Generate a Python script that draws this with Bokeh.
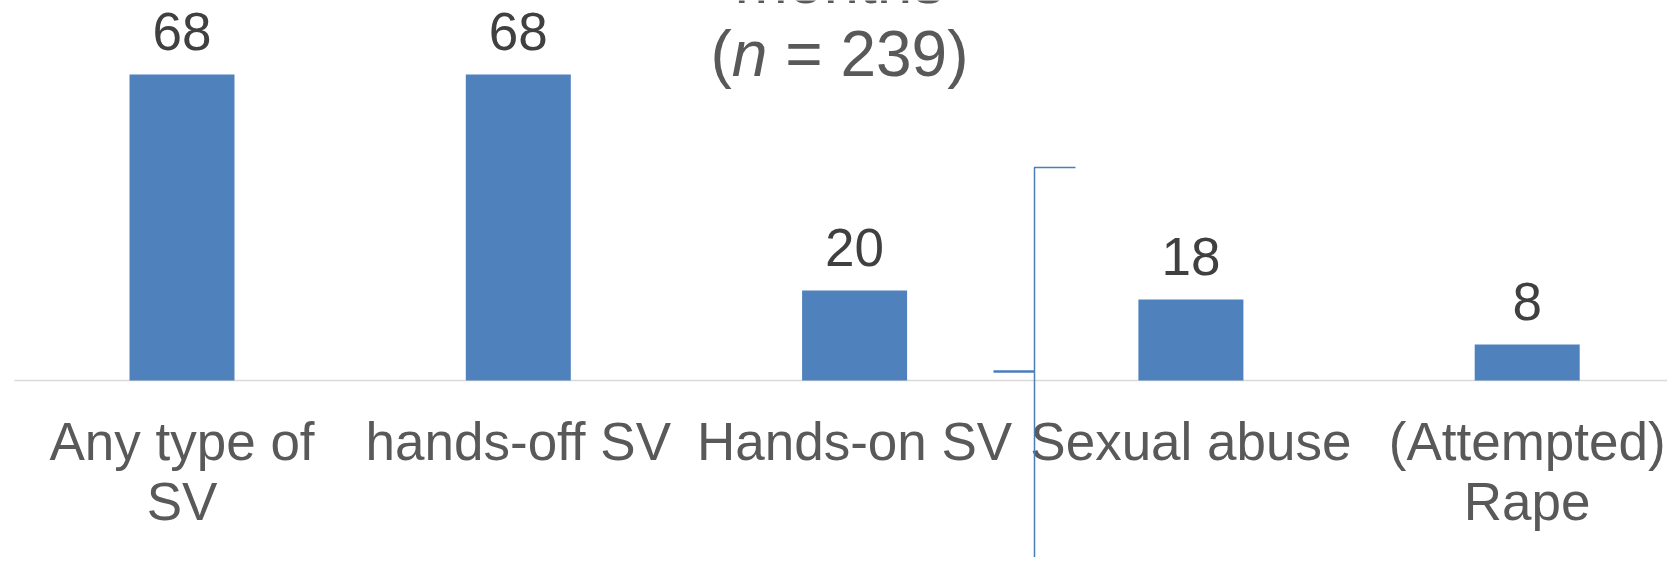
from bokeh.plotting import figure
from bokeh.models import Range1d
from bokeh.core.properties import value
from bokeh.embed import file_html
from bokeh.resources import INLINE

# ---- data ----
categories = ["Any type of\nSV", "hands-off SV", "Hands-on SV", "Sexual abuse", "(Attempted)\nRape"]
values = [68, 68, 20, 18, 8]
title_lines = ["months"]
n_total = 239

# ---- layout constants (pixels in the reference image) ----
W, H = 1667, 557
X0_REF = 181.5          # centre of first category
DX = 336.3              # px per category
BASE_REF = 380.0        # baseline y
PY = 4.5                # px per value unit
SHIFT = 0.385           # renderer places alphabetic text this many em lower


def xd(px):
    return (px - X0_REF) / DX


def yd(py):
    return (BASE_REF - py) / PY


def ytext(py, size):
    """data y for a text whose baseline should sit at pixel row py"""
    return yd(py - SHIFT * size)


FONT = value("Liberation Sans")
BAR = "#4F81BD"

p = figure(width=W, height=H, output_backend="svg", toolbar_location=None,
           x_range=Range1d(xd(0), xd(W)), y_range=Range1d(yd(H), yd(0)),
           x_axis_location=None, y_axis_location=None, min_border=0)
p.outline_line_color = None
p.xgrid.visible = False
p.ygrid.visible = False
p.background_fill_color = "white"
p.border_fill_color = "white"

xs = list(range(len(categories)))

# baseline
p.line(x=[xd(14), xd(1675)], y=[0, 0], line_color="#D9D9D9", line_width=1.5)

# bars
p.vbar(x=xs, top=values, bottom=0, width=105 / DX, fill_color=BAR, line_color=None)

# value labels
VSZ = 53
p.text(x=xs, y=[v + (22.5 + SHIFT * VSZ) / PY for v in values], text=[str(v) for v in values],
       text_font=FONT, text_font_size=f"{VSZ}px", text_color="#404040",
       text_align="center", text_baseline="alphabetic")

# category labels (top aligned, line by line)
CSZ = 53
LINE1_REF = 461.5
LINE_STEP = 60.0
lx, ly, lt = [], [], []
for i, c in enumerate(categories):
    for k, line in enumerate(c.split("\n")):
        lx.append(i)
        ly.append(ytext(LINE1_REF + k * LINE_STEP, CSZ))
        lt.append(line)
p.text(x=lx, y=ly, text=lt, text_font=FONT, text_font_size=f"{CSZ}px", text_color="#595959",
       text_align="center", text_baseline="alphabetic")

# title (cropped at the top)
TITLE_CX = 839.0
TSZ = 64
p.text(x=[xd(TITLE_CX)], y=[ytext(5, TSZ)], text=title_lines, text_font=FONT,
       text_font_size=f"{TSZ}px", text_color="#595959", text_align="center",
       text_baseline="alphabetic")
# "(n = 239)" with italic n
w_open, w_n, w_sp = 0.333 * TSZ, 0.556 * TSZ, 0.278 * TSZ
rest = f"= {n_total})"
w_rest = (0.584 + 0.278 + 0.556 * len(str(n_total)) + 0.333) * TSZ
left = TITLE_CX - (w_open + w_n + w_sp + w_rest) / 2
ty = ytext(78, TSZ)
p.text(x=[xd(left)], y=[ty], text=["("], text_font=FONT, text_font_size=f"{TSZ}px",
       text_color="#595959", text_align="left", text_baseline="alphabetic")
p.text(x=[xd(left + w_open)], y=[ty], text=["n"], text_font=FONT, text_font_size=f"{TSZ}px",
       text_font_style="italic", text_color="#595959", text_align="left",
       text_baseline="alphabetic")
p.text(x=[xd(left + w_open + w_n + w_sp)], y=[ty], text=[rest], text_font=FONT,
       text_font_size=f"{TSZ}px", text_color="#595959", text_align="left",
       text_baseline="alphabetic")

# stray bracket lines
LC = "#4A7EBB"
p.line(x=[xd(1075), xd(1034), xd(1034)], y=[yd(167), yd(167), yd(600)],
       line_color=LC, line_width=1.5)
p.line(x=[xd(993), xd(1034)], y=[yd(371), yd(371)], line_color=LC, line_width=2.5)

open("out.html", "w").write(file_html(p, INLINE))
